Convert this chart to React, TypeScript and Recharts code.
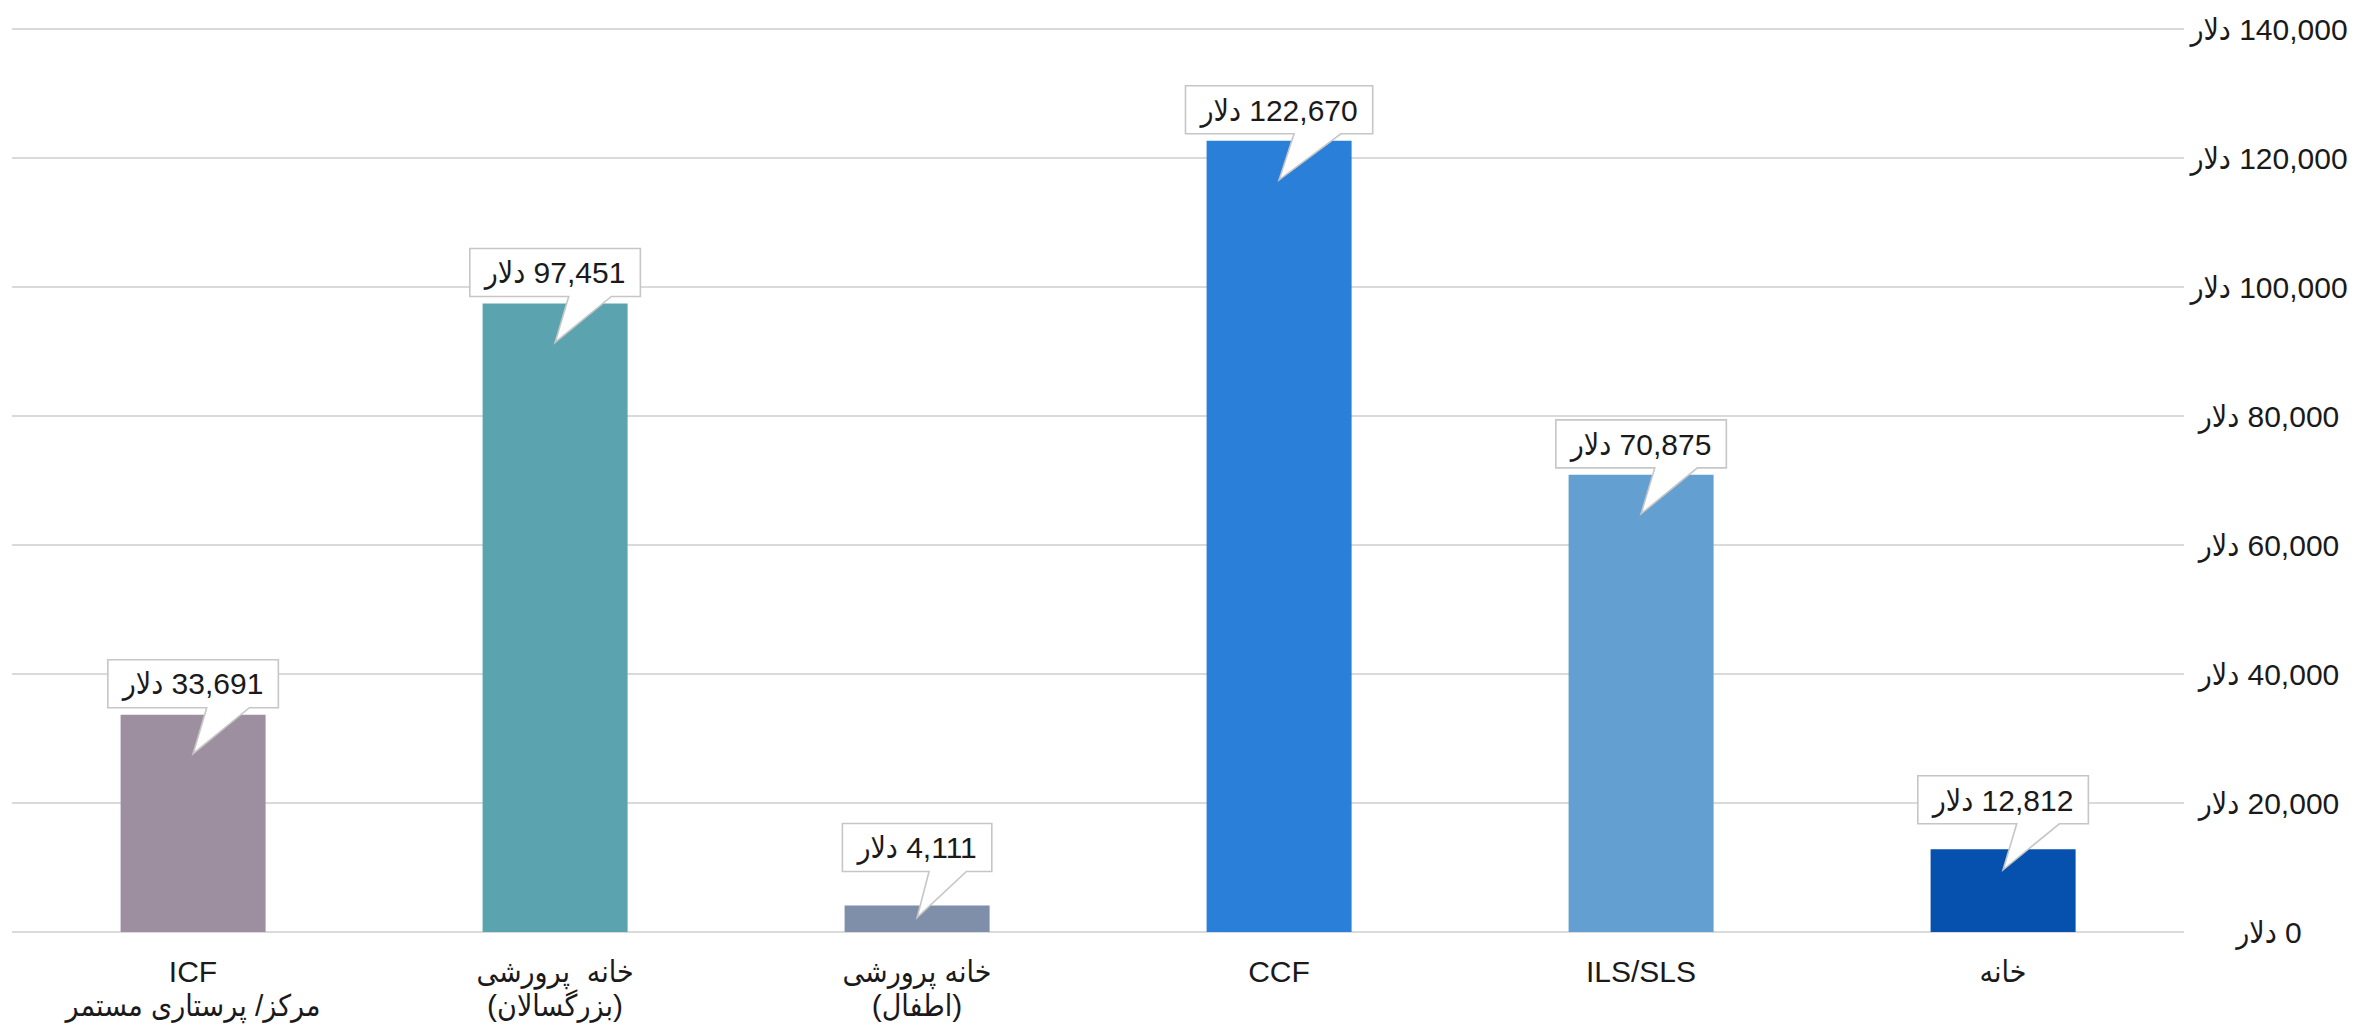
import React from "react";
import {
  Bar,
  BarChart,
  CartesianGrid,
  Cell,
  LabelList,
  XAxis,
  YAxis,
} from "recharts";

const categories = [
  "ICF\nمرکز/ پرستاری مستمر",
  "خانه  پرورشی\n(بزرگسالان)",
  "خانه پرورشی\n(اطفال)",
  "CCF",
  "ILS/SLS",
  "خانه",
];
const costs = [33691, 97451, 4111, 122670, 70875, 12812];
const barColors = ["#9d8fa0", "#5ba3ae", "#7f8ea9", "#2a7fd8", "#639fd1", "#0650ae"];
const yTicks = [0, 20000, 40000, 60000, 80000, 100000, 120000, 140000];

// Liberation Sans for latin/digits, condensed DejaVu picks up the Persian glyphs
const FONT = "'Liberation Sans', Arial, 'DejaVu Sans Condensed', 'DejaVu Sans', sans-serif";
const TEXT = "#1a1a1a";

const data = categories.map((name, i) => ({ name, value: costs[i] }));

// RLM in front so "دلار" lands on the left of the number
const money = (n: number) => "\u200F" + n.toLocaleString("en-US") + " دلار";

let ctx: CanvasRenderingContext2D | null = null;
const textWidth = (s: string) => {
  if (!ctx) ctx = document.createElement("canvas").getContext("2d");
  if (!ctx) return s.length * 15;
  ctx.font = `30px ${FONT}`;
  return ctx.measureText(s).width;
};

const XTick = (props: any) => {
  const { x, y, payload } = props;
  const lines = String(payload.value).split("\n");
  return (
    <text x={x} y={y} textAnchor="middle" fill={TEXT} fontSize={30} fontFamily={FONT}>
      {lines.map((l, i) => (
        <tspan key={i} x={x} y={y + 42 + i * 34} style={{ whiteSpace: "pre" }}>
          {l}
        </tspan>
      ))}
    </text>
  );
};

const YTick = (props: any) => {
  const { x, y, payload } = props;
  return (
    <text x={x + 77} y={y} dy="0.36em" textAnchor="middle" fill={TEXT} fontSize={30} fontFamily={FONT}>
      {money(payload.value)}
    </text>
  );
};

const Callout = (props: any) => {
  const vb = props.viewBox || {};
  const x = props.x ?? vb.x;
  const y = props.y ?? vb.y;
  const width = props.width ?? vb.width;
  const height = props.height ?? vb.height;
  const label = money(Number(props.value));
  const w = textWidth(label) + 30;
  const cx = x + width / 2;
  const tipY = y + Math.min(39, 8 + 0.15 * height);
  const bottom = tipY - 46;
  const top = bottom - 48;
  const left = cx - w / 2;
  const right = cx + w / 2;
  const b1 = left + 0.58 * w;
  const b2 = left + 0.83 * w;
  const d = `M${left},${top} L${right},${top} L${right},${bottom} L${b2},${bottom} L${cx},${tipY} L${b1},${bottom} L${left},${bottom} Z`;
  return (
    <g>
      <path d={d} fill="#fff" stroke="#c6c6c6" strokeWidth={1.6} />
      <text
        x={cx}
        y={top + 24}
        dy="0.36em"
        textAnchor="middle"
        fill={TEXT}
        fontSize={30}
        fontFamily={FONT}
      >
        {label}
      </text>
    </g>
  );
};

export default function App() {
  return (
    <div style={{ position: "absolute", left: 0, top: 0, width: 2361, height: 1028, background: "#fff" }}>
      <BarChart
        width={2361}
        height={1028}
        data={data}
        margin={{ top: 29, right: 0, left: 12, bottom: 0 }}
        barCategoryGap="30%"
      >
        <CartesianGrid vertical={false} stroke="#dadada" strokeWidth={2} />
        <XAxis
          dataKey="name"
          axisLine={false}
          tickLine={false}
          height={96}
          interval={0}
          tick={<XTick />}
        />
        <YAxis
          orientation="right"
          width={177}
          domain={[0, 140000]}
          ticks={yTicks}
          axisLine={false}
          tickLine={false}
          tick={<YTick />}
        />
        <Bar dataKey="value" isAnimationActive={false}>
          {data.map((d, i) => (
            <Cell key={d.name} fill={barColors[i]} />
          ))}
          <LabelList dataKey="value" content={<Callout />} />
        </Bar>
      </BarChart>
    </div>
  );
}
